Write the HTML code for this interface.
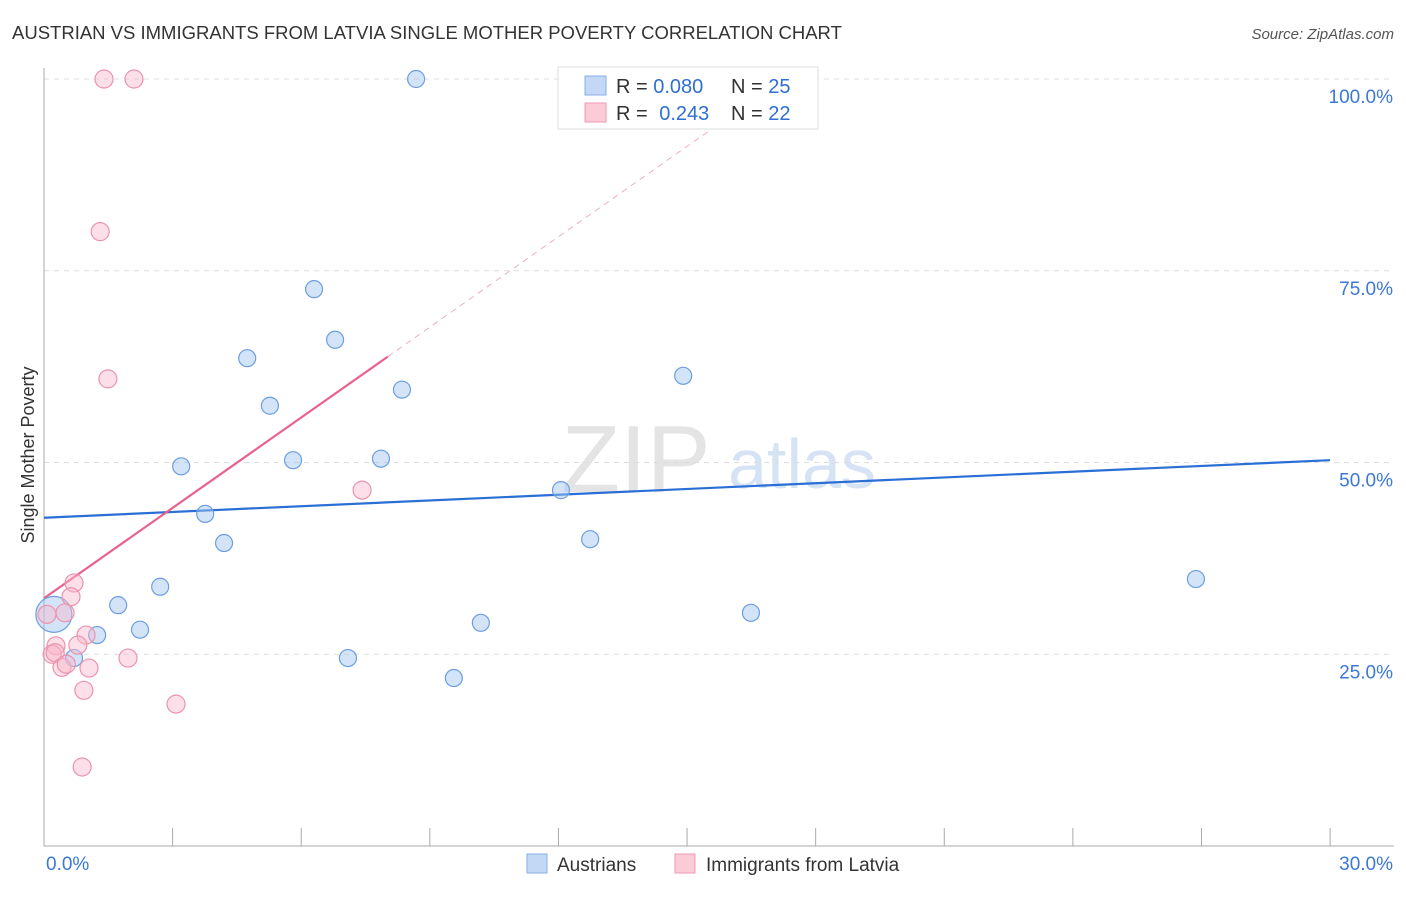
<!DOCTYPE html>
<html><head><meta charset="utf-8"><style>
body{margin:0;background:#fff;font-family:"Liberation Sans",sans-serif;}
svg text{font-family:"Liberation Sans",sans-serif;}
</style></head><body>
<svg id="chart" width="1406" height="892">
<text x="12" y="39" font-size="18.5" fill="#333">AUSTRIAN VS IMMIGRANTS FROM LATVIA SINGLE MOTHER POVERTY CORRELATION CHART</text>
<text x="1394" y="39" font-size="15" fill="#555" font-style="italic" text-anchor="end">Source: ZipAtlas.com</text>
<text x="34" y="455" font-size="18" fill="#333" text-anchor="middle" transform="rotate(-90 34 455)">Single Mother Poverty</text>
<text x="636" y="492" font-size="96" fill="#e4e4e4" font-family="Liberation Serif" text-anchor="middle">ZIP</text>
<text x="802" y="488" font-size="70" fill="#d6e3f5" text-anchor="middle">atlas</text>
<g id="grid"></g><g id="axes"></g><g id="trend"></g><g id="pts"></g>
<g>
<rect x="558" y="67" width="260" height="62" fill="#fff" stroke="#ddd"/>
<rect x="585" y="76" width="21" height="19" fill="#c2d8f5" stroke="#88aee6"/>
<rect x="585" y="103" width="21" height="19" fill="#f9ccd8" stroke="#ee9ab3"/>
<text x="616" y="93" font-size="20" fill="#333">R = <tspan fill="#2f6fd1">0.080</tspan><tspan x="731">N = </tspan><tspan fill="#2f6fd1">25</tspan></text>
<text x="616" y="120" font-size="20" fill="#333">R = <tspan fill="#2f6fd1" dx="6">0.243</tspan><tspan x="731">N = </tspan><tspan fill="#2f6fd1">22</tspan></text>
</g>
<g>
<rect x="527" y="854" width="20" height="19" fill="#c2d8f5" stroke="#88aee6"/>
<text x="557" y="871" font-size="19" fill="#333">Austrians</text>
<rect x="675" y="854" width="20" height="19" fill="#f9ccd8" stroke="#ee9ab3"/>
<text x="706" y="871" font-size="19" fill="#333">Immigrants from Latvia</text>
</g>
</svg>
<script>
const blueX=[8.68,6.30,6.79,4.74,8.35,14.91,5.27,3.20,5.81,7.86,12.06,3.76,4.20,12.74,2.71,26.87,1.73,16.49,2.24,1.24,10.19,7.09,9.56,0.70,0.23];
const blueY=[100,72.6,66.0,63.6,59.5,61.3,57.4,49.5,50.3,50.5,46.4,43.3,39.5,40.0,33.8,34.8,31.4,30.4,28.2,27.5,29.1,24.5,21.9,24.5,30.2];
const pinkX=[1.40,2.10,1.31,1.49,7.42,0.70,0.63,0.49,0.07,0.28,0.98,0.79,0.19,0.26,1.96,0.42,1.05,0.52,0.93,3.08,0.89];
const pinkY=[100,100,80.1,60.9,46.4,34.3,32.5,30.4,30.2,26.1,27.5,26.2,25.0,25.2,24.5,23.3,23.2,23.7,20.3,18.5,10.3];
const blueTrend=[42.8,50.3];
const pinkTrend=[32.3,63.8];
const pinkTrendEndX=8.02;
const yTicks=[25,50,75,100];
const xTickCount=10;
const ns="http://www.w3.org/2000/svg";
const X=v=>44+v*42.87, Y=v=>846-v*7.67;
function mk(t,a,p){const e=document.createElementNS(ns,t);for(const k in a)e.setAttribute(k,a[k]);p.appendChild(e);return e;}
const grid=document.getElementById('grid'),axes=document.getElementById('axes'),trend=document.getElementById('trend'),pts=document.getElementById('pts');
yTicks.forEach(t=>{
 const l=mk('line',{x1:44,x2:1394,y1:Y(t),y2:Y(t),stroke:'#ddd','stroke-dasharray':'5,5'},grid);
 
 
 const tx=mk('text',{x:1393,y:Y(t)+24,'font-size':19,fill:'#3b78d8','text-anchor':'end'},axes);
 tx.textContent=t.toFixed(1)+'%';
 
 
});
mk('line',{x1:44,x2:44,y1:68,y2:846,stroke:'#aaa'},axes);
mk('line',{x1:44,x2:1394,y1:846,y2:846,stroke:'#aaa'},axes);
for(let i=1;i<=xTickCount;i++){const xv=i*3;const l=mk('line',{x1:X(xv),x2:X(xv),y1:828,y2:846,stroke:'#aaa'},axes);
 
 }
let t0=mk('text',{x:46,y:870,'font-size':19,fill:'#3b78d8'},axes);t0.textContent='0.0%';

let t1=mk('text',{x:1393,y:870,'font-size':19,fill:'#3b78d8','text-anchor':'end'},axes);t1.textContent='30.0%';

const bl=mk('line',{x1:X(0),x2:X(30),y1:Y(blueTrend[0]),y2:Y(blueTrend[1]),stroke:'#2a6fd6','stroke-width':2.2},trend);


const slope=(pinkTrend[1]-pinkTrend[0])/pinkTrendEndX;
const xEnd=(100-pinkTrend[0])/slope;
const pd=mk('line',{x1:X(pinkTrendEndX),x2:X(xEnd),y1:Y(pinkTrend[1]),y2:Y(100),stroke:'#eab0c0','stroke-dasharray':'6,5'},trend);

const pl=mk('line',{x1:X(0),x2:X(pinkTrendEndX),y1:Y(pinkTrend[0]),y2:Y(pinkTrend[1]),stroke:'#e8628c','stroke-width':2.2},trend);


blueX.forEach((x,i)=>{const c=mk('circle',{cx:X(x),cy:Y(blueY[i]),r:i==24?18:8.5,fill:'rgba(160,195,240,0.45)',stroke:'#6c9ee0','stroke-width':1.2},pts);
 
 });
pinkX.forEach((x,i)=>{const c=mk('circle',{cx:X(x),cy:Y(pinkY[i]),r:9,fill:'rgba(248,185,205,0.45)',stroke:'#eb93ae','stroke-width':1.2},pts);
 
 });
</script>
</body></html>
